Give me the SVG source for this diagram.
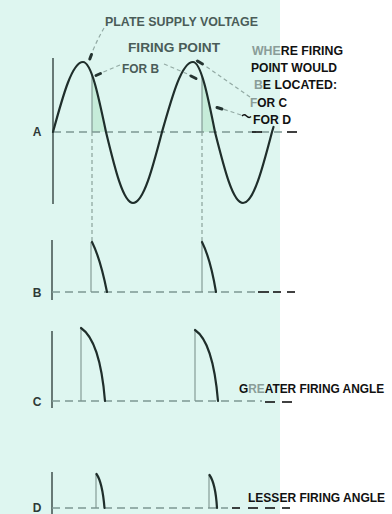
<svg xmlns="http://www.w3.org/2000/svg" width="392" height="514" viewBox="0 0 392 514">
<defs>
<style>
.bg{fill:#def6f0}
.wave{fill:none;stroke:#1f2e2b;stroke-width:2.2;stroke-linejoin:round;stroke-linecap:round}
.axis{stroke:#4a5a57;stroke-width:1.6}
.base{stroke:#7e9892;stroke-width:1.6;stroke-dasharray:8 5}
.blk{stroke:#111;stroke-width:1.6}
.guide{stroke:#8aa29b;stroke-width:1.2;stroke-dasharray:4 3}
.thin{stroke:#7d948e;stroke-width:1.1}
.pulse{fill:none;stroke:#1f2e2b;stroke-width:2.2;stroke-linecap:round}
.shade{fill:#c6ecd9}
.lead{fill:none;stroke:#93aaa4;stroke-width:1.2;stroke-dasharray:4 3}
.tip{stroke:#243431;stroke-width:3;stroke-linecap:round}
.lbl{font-family:"Liberation Sans",Arial,sans-serif;font-size:13px;font-weight:bold;fill:#4a5c58}
.note{font-family:"Liberation Sans",Arial,sans-serif;font-size:13px;font-weight:bold;fill:#111}
.dim{fill:#8a9d98}
.ax{font-family:"Liberation Sans",Arial,sans-serif;font-size:12px;font-weight:bold;fill:#2e3a38;text-anchor:middle}
</style>
</defs>
<rect x="0" y="0" width="392" height="514" fill="#ffffff"/>
<rect class="bg" x="0" y="0" width="280" height="514"/>

<g id="panel-A">
  <path class="shade" d="M92,132 L92,75 Q99,100 106,132 Z"/>
  <path class="shade" d="M202,132 L202,76 Q208,100 215,132 Z"/>
  <line class="thin" x1="92" y1="75" x2="92" y2="132"/>
  <line class="thin" x1="202" y1="76" x2="202" y2="132"/>
  <line class="axis" x1="53" y1="58" x2="53" y2="204"/>
  <line class="base" x1="53" y1="132" x2="284" y2="132"/>
  <line class="blk" x1="252" y1="132" x2="262" y2="132"/>
  <line class="blk" x1="287" y1="132" x2="297" y2="132"/>
  <path class="wave" d="M53,132 C63,95.3 72.2,62 83,62 C91.3,62 98.3,95.3 106,132 C115,169.2 123.3,203 133,203 C143.4,203 152.3,169.2 162,132 C172.4,95.3 181.8,62 193,62 C200.9,62 207.7,95.3 215,132 C224.4,169.2 232.9,203 243,203 C253.4,203 262.3,169.2 272,132 L273.5,127"/>
  <text class="ax" x="37" y="136">A</text>
</g>

<g id="guides">
  <line class="guide" x1="92" y1="132" x2="92" y2="242"/>
  <line class="guide" x1="202" y1="132" x2="202" y2="242"/>
</g>

<g id="panel-B">
  <line class="axis" x1="52" y1="240" x2="52" y2="300"/>
  <line class="base" x1="52" y1="292" x2="256" y2="292"/>
  <line class="blk" x1="258" y1="292" x2="269" y2="292"/>
  <line class="blk" x1="273" y1="292" x2="281" y2="292"/>
  <line class="blk" x1="287" y1="292" x2="295" y2="292"/>
  <line class="thin" x1="91" y1="242" x2="91" y2="292"/>
  <path class="pulse" d="M92,242 C96,250 101,262 107,292"/>
  <line class="thin" x1="202" y1="242" x2="202" y2="292"/>
  <path class="pulse" d="M202,242 C206,250 211,262 216,292"/>
  <text class="ax" x="37" y="297">B</text>
</g>

<g id="panel-C">
  <line class="axis" x1="52" y1="331" x2="52" y2="408"/>
  <line class="base" x1="52" y1="401" x2="262" y2="401"/>
  <line class="blk" x1="265" y1="402" x2="275" y2="402"/>
  <line class="blk" x1="282" y1="402" x2="292" y2="402"/>
  <line class="thin" x1="81" y1="328" x2="81" y2="401"/>
  <path class="pulse" d="M81,328 C90,334 101,352 105,401"/>
  <line class="thin" x1="195" y1="330" x2="195" y2="401"/>
  <path class="pulse" d="M195,330 C204,336 214,354 218,401"/>
  <text class="ax" x="37" y="406">C</text>
</g>

<g id="panel-D">
  <line class="axis" x1="52" y1="472" x2="52" y2="514"/>
  <line class="base" x1="52" y1="508" x2="228" y2="508"/>
  <line class="blk" x1="232" y1="508" x2="240" y2="508"/>
  <line class="blk" x1="248" y1="508" x2="258" y2="508"/>
  <line class="blk" x1="265" y1="508" x2="275" y2="508"/>
  <line class="blk" x1="282" y1="508" x2="290" y2="508"/>
  <line class="thin" x1="96" y1="474" x2="96" y2="508"/>
  <path class="pulse" d="M96.5,474 C100,479 103,490 104.5,508"/>
  <line class="thin" x1="209" y1="475" x2="209" y2="508"/>
  <path class="pulse" d="M209.5,475 C213,480 216,491 217,508"/>
  <text class="ax" x="37" y="512">D</text>
</g>

<g id="connectors">
  <path class="lead" d="M104,28 Q97,40 91.5,54"/>
  <line class="tip" x1="91.5" y1="54.5" x2="89.8" y2="59"/>
  <path class="lead" d="M120,65 L101,73"/>
  <line class="tip" x1="100.5" y1="73.5" x2="96" y2="75.5"/>
  <path class="lead" d="M164,64 L190,75"/>
  <line class="tip" x1="191" y1="76" x2="196" y2="78.5"/>
  <path class="lead" d="M250,97 L204,65"/>
  <line class="tip" x1="202.5" y1="64" x2="197.5" y2="61"/>
  <path class="lead" d="M241,115 L223,109"/>
  <line class="tip" x1="222" y1="109" x2="217" y2="107.5"/>
  <path d="M242,116 Q244,113.5 246.5,116 T251,116.5" fill="none" stroke="#111" stroke-width="1.4"/>
</g>

<g id="label-plate">
  <text class="lbl" x="105" y="26" textLength="153" lengthAdjust="spacingAndGlyphs">PLATE SUPPLY VOLTAGE</text>
</g>
<g id="label-firing-b">
  <text class="lbl" x="128" y="52" textLength="92" lengthAdjust="spacingAndGlyphs">FIRING POINT</text>
  <text class="lbl" x="122" y="73" textLength="37" lengthAdjust="spacingAndGlyphs">FOR B</text>
</g>
<g id="label-where">
  <text class="note" x="252" y="55" textLength="91" lengthAdjust="spacingAndGlyphs"><tspan class="dim">WHE</tspan>RE FIRING</text>
  <text class="note" x="251" y="72" textLength="86" lengthAdjust="spacingAndGlyphs">POINT WOULD</text>
  <text class="note" x="254" y="89" textLength="83" lengthAdjust="spacingAndGlyphs"><tspan class="dim">B</tspan>E LOCATED:</text>
  <text class="note" x="250" y="107" textLength="37" lengthAdjust="spacingAndGlyphs"><tspan class="dim">F</tspan>OR C</text>
  <text class="note" x="253" y="124" textLength="38" lengthAdjust="spacingAndGlyphs">FOR D</text>
</g>
<g id="label-greater">
  <text class="note" transform="translate(239,393) scale(0.915,1)" x="0" y="0">G<tspan class="dim">RE</tspan>ATER FIRING ANGLE</text>
</g>
<g id="label-lesser">
  <text class="note" transform="translate(248,502) scale(0.925,1)" x="0" y="0">LESSER FIRING ANGLE</text>
</g>
</svg>
